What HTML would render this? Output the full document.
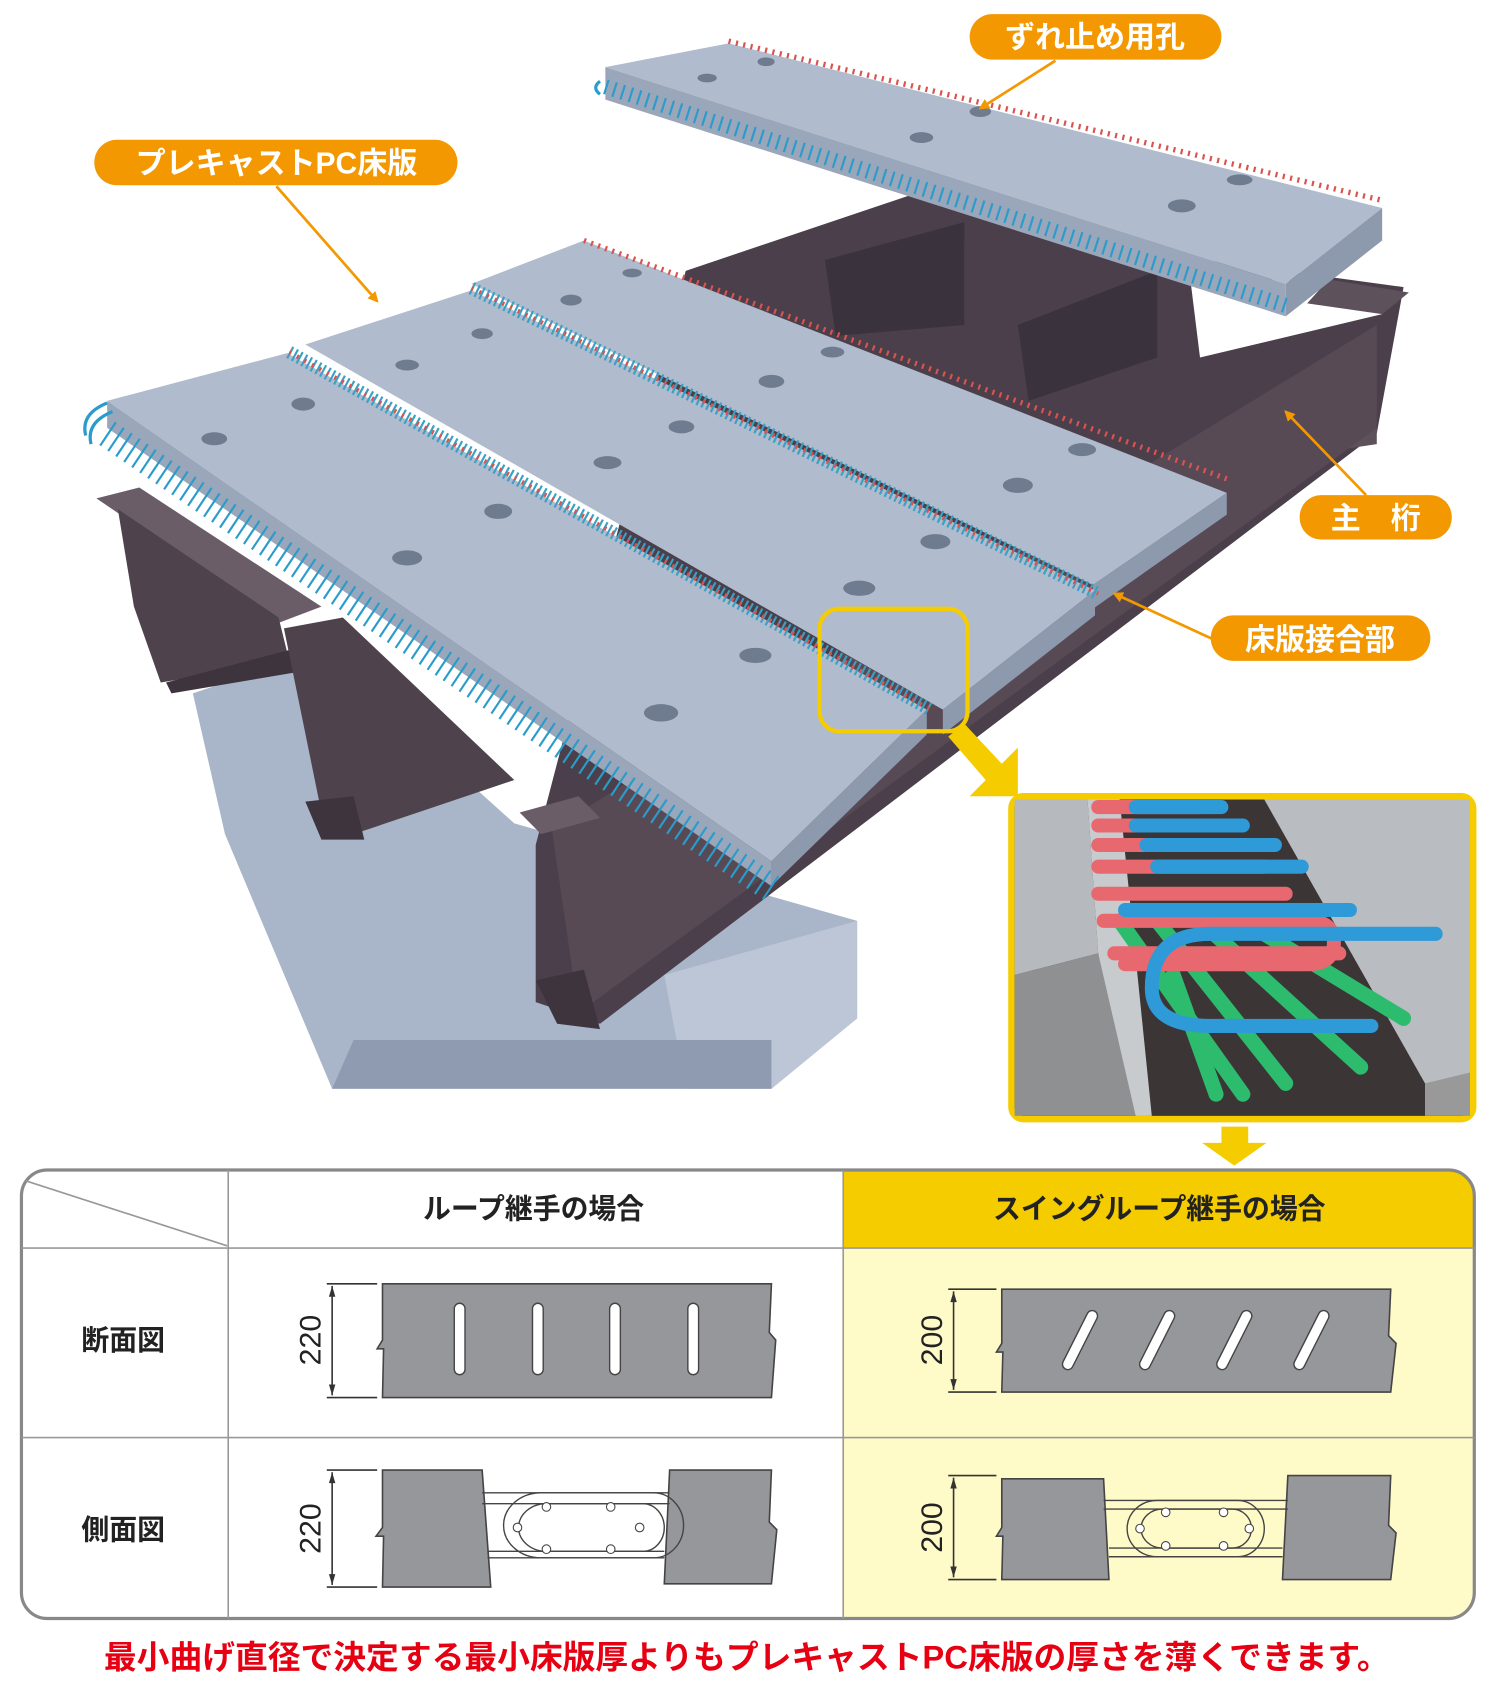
<!DOCTYPE html>
<html><head><meta charset="utf-8"><style>
html,body{margin:0;padding:0;background:#fff;}
svg{display:block;}
text{font-family:"Liberation Sans","Noto Sans CJK JP",sans-serif;}
</style></head><body>
<svg width="1500" height="1690" viewBox="0 0 1400 1560" preserveAspectRatio="none" xmlns="http://www.w3.org/2000/svg">
<defs>
<marker id="ah" markerWidth="10" markerHeight="10" refX="8" refY="5" orient="auto" markerUnits="userSpaceOnUse"><path d="M0,0 L10,5 L0,10 Z" fill="#f39800"/></marker>
</defs>
<rect width="1400" height="1560" fill="#fff"/>
<!-- pier -->
<polygon points="180,640 300,600 480,760 800,850 800,940 720,1005 310,1005 210,770" fill="#a9b5c9"/>
<polygon points="620,900 800,850 800,940 720,1005 640,1005" fill="#bcc6d6"/>
<polygon points="310,1005 720,1005 720,960 330,960" fill="#8f9bb0"/>
<!-- back steel -->
<polygon points="640,250 880,170 1000,228 1110,238 1310,265 1285,400 560,945 500,925 500,780" fill="#4a3f4a"/>
<polygon points="770,240 900,205 900,300 780,310" fill="#3a323d"/>
<polygon points="950,300 1080,250 1080,330 960,370" fill="#3a323d"/>
<polygon points="1110,250 1300,270 1290,290 1120,330" fill="#fff"/>
<polygon points="1240,258 1315,270 1290,290 1220,280" fill="#5d525c"/>
<polygon points="1180,390 1285,395 1285,410 1150,430" fill="#5d525c"/>
<!-- front main girder -->
<polygon points="515,765 1285,300 1285,395 540,935" fill="#574a55"/>
<polygon points="485,750 540,735 560,755 505,770" fill="#6a5d68"/>
<polygon points="500,905 545,895 560,950 520,945" fill="#3d343e"/>
<!-- left girder and crossbeams -->
<polygon points="90,460 130,450 300,560 260,575" fill="#6a5d68"/>
<polygon points="110,470 260,570 270,610 150,630 125,560" fill="#4e424d"/>
<polygon points="155,630 270,600 280,620 160,640" fill="#3d343e"/>
<polygon points="265,580 320,570 480,720 330,770 300,750" fill="#4e424d"/>
<polygon points="285,740 330,735 340,775 300,775" fill="#3d343e"/>
<!-- upper slab -->
<polygon points="565,62 680,40 1290,192 1200,262" fill="#b0bbce"/>
<polygon points="1200,262 1290,192 1290,222 1200,292" fill="#8d99ad"/>
<polygon points="565,62 1200,262 1200,292 565,92" fill="#9aa6b9"/>
<line x1="565" y1="80" x2="1200" y2="282" stroke="#2a9ccc" stroke-width="14" stroke-dasharray="2 6"/>
<line x1="680" y1="38" x2="1290" y2="185" stroke="#d9534f" stroke-width="5" stroke-dasharray="2 5"/>
<path d="M560,75 q-8,6 0,12" stroke="#2a9ccc" stroke-width="3" fill="none"/>
<!-- slab 3 -->
<polygon points="440,262 545,222 1145,455 1020,540" fill="#b0bbce"/>
<polygon points="1020,540 1145,455 1145,475 1020,562" fill="#8d99ad"/>
<line x1="545" y1="222" x2="1145" y2="442" stroke="#d9534f" stroke-width="5" stroke-dasharray="2 5"/>
<!-- slab 2 -->
<polygon points="285,318 440,268 1022,545 880,655" fill="#b0bbce"/>
<polygon points="880,655 1022,545 1022,568 880,678" fill="#8d99ad"/>
<line x1="440" y1="266" x2="1025" y2="548" stroke="#3aa1c4" stroke-width="12" stroke-dasharray="2 3"/>
<line x1="440" y1="266" x2="1025" y2="548" stroke="#d9534f" stroke-width="4" stroke-dasharray="2 6"/>
<!-- slab 1 -->
<polygon points="100,370 268,326 865,655 720,795" fill="#b0bbce"/>
<polygon points="720,795 865,655 865,678 720,818" fill="#8d99ad"/>
<polygon points="100,370 720,795 720,818 100,395" fill="#9aa6b9"/>
<line x1="270" y1="325" x2="868" y2="655" stroke="#3aa1c4" stroke-width="12" stroke-dasharray="2 3"/>
<line x1="270" y1="325" x2="868" y2="655" stroke="#d9534f" stroke-width="4" stroke-dasharray="2 6"/>
<line x1="100" y1="400" x2="720" y2="820" stroke="#2a9ccc" stroke-width="26" stroke-dasharray="2 7"/>
<path d="M100,372 q-25,10 -20,30 M105,380 q-25,10 -20,30" stroke="#2a9ccc" stroke-width="3" fill="none"/>
<!-- holes -->
<g fill="#6f7b8e">
<ellipse cx="200" cy="405" rx="12" ry="6"/><ellipse cx="283" cy="373" rx="11" ry="6"/>
<ellipse cx="380" cy="515" rx="14" ry="7"/><ellipse cx="465" cy="472" rx="13" ry="7"/>
<ellipse cx="617" cy="658" rx="16" ry="8"/><ellipse cx="705" cy="605" rx="15" ry="7"/>
<ellipse cx="380" cy="337" rx="11" ry="5"/><ellipse cx="450" cy="308" rx="10" ry="5"/>
<ellipse cx="567" cy="427" rx="13" ry="6"/><ellipse cx="636" cy="394" rx="12" ry="6"/>
<ellipse cx="802" cy="543" rx="15" ry="7"/><ellipse cx="873" cy="500" rx="14" ry="7"/>
<ellipse cx="533" cy="277" rx="10" ry="5"/><ellipse cx="590" cy="252" rx="9" ry="4"/>
<ellipse cx="720" cy="352" rx="12" ry="6"/><ellipse cx="777" cy="325" rx="11" ry="5"/>
<ellipse cx="950" cy="448" rx="14" ry="7"/><ellipse cx="1010" cy="415" rx="13" ry="6"/>
<ellipse cx="660" cy="72" rx="9" ry="4"/><ellipse cx="715" cy="57" rx="8" ry="4"/>
<ellipse cx="860" cy="127" rx="11" ry="5"/><ellipse cx="915" cy="103" rx="10" ry="5"/>
<ellipse cx="1103" cy="190" rx="13" ry="6"/><ellipse cx="1157" cy="166" rx="12" ry="5"/>
</g>
<!-- highlight box and arrow -->
<rect x="765" y="562" width="138" height="113" rx="18" fill="none" stroke="#f5cc00" stroke-width="4"/>
<polygon points="885,680 900,668 935,705 950,690 950,735 905,735 920,720" fill="#f5cc00"/>
<!-- inset photo -->
<rect x="941" y="732" width="437" height="304" rx="14" fill="#f5cc00"/>
<rect x="947" y="738" width="425" height="292" rx="8" fill="#3b3535"/>
<polygon points="947,738 1015,738 1025,880 947,900" fill="#b6b9bd"/>
<polygon points="947,900 1025,880 1070,1030 947,1030" fill="#8f9092"/>
<polygon points="1015,738 1045,738 1075,1030 1060,1030 1025,880" fill="#c8cbce"/>
<polygon points="1180,738 1372,738 1372,1000 1330,1000" fill="#b9bcc0"/>
<polygon points="1330,1000 1372,990 1372,1030 1330,1030" fill="#999"/>
<g stroke-linecap="round" fill="none">
<g stroke="#2dbb6e" stroke-width="14">
<line x1="1045" y1="850" x2="1160" y2="1010"/><line x1="1080" y1="850" x2="1200" y2="1000"/>
<line x1="1120" y1="850" x2="1270" y2="985"/><line x1="1160" y1="850" x2="1310" y2="940"/>
<line x1="1095" y1="900" x2="1135" y2="1010"/>
</g>
<g stroke="#e86870" stroke-width="13">
<path d="M1025,745 H1120"/><path d="M1025,762 H1140"/><path d="M1025,780 H1160"/><path d="M1025,800 H1180"/><path d="M1025,825 H1200"/><path d="M1030,850 H1220 q25,0 25,20 q0,20 -25,20 H1050"/><path d="M1040,880 H1250"/>
</g>
<g stroke="#2e9ad8" stroke-width="13">
<path d="M1060,745 H1140"/><path d="M1060,762 H1160"/><path d="M1070,780 H1190"/><path d="M1080,800 H1215"/><path d="M1050,840 H1260"/><path d="M1340,862 H1130 q-55,0 -55,50 q0,35 55,35 H1280"/>
</g>
</g>
<polygon points="1140,1040 1165,1040 1165,1055 1182,1055 1152,1076 1122,1055 1140,1055" fill="#f5cc00"/>
<!-- labels -->
<g stroke="#f39800" stroke-width="2.5" fill="none" marker-end="url(#ah)">
<line x1="258" y1="172" x2="352" y2="278"/>
<line x1="985" y1="56" x2="915" y2="100"/>
<line x1="1275" y1="457" x2="1200" y2="380"/>
<line x1="1132" y1="590" x2="1040" y2="548"/>
</g>
<g fill="#f39800">
<rect x="905" y="13" width="235" height="42" rx="21"/>
<rect x="88" y="129" width="339" height="42" rx="21"/>
<rect x="1213" y="457" width="142" height="41" rx="20"/>
<rect x="1130" y="568" width="205" height="42" rx="21"/>
</g>
<g fill="#fff" font-size="28" font-weight="bold" text-anchor="middle">
<text x="1022" y="44">ずれ止め用孔</text>
<text x="258" y="160">プレキャストPC床版</text>
<text x="1284" y="488">主　桁</text>
<text x="1232" y="600">床版接合部</text>
</g>
<!-- table -->
<path d="M787,1080 H1352 a24,24 0 0 1 24,24 V1152 H787 Z" fill="#f5cc00"/>
<path d="M787,1152 H1376 V1470 a24,24 0 0 1 -24,24 H787 Z" fill="#fffbc8"/>
<rect x="20" y="1080" width="1356" height="414" rx="24" fill="none" stroke="#888" stroke-width="3"/>
<g stroke="#999" stroke-width="1.5">
<line x1="20" y1="1152" x2="1376" y2="1152"/><line x1="20" y1="1327" x2="1376" y2="1327"/>
<line x1="213" y1="1080" x2="213" y2="1494"/><line x1="787" y1="1080" x2="787" y2="1494"/>
<line x1="24" y1="1090" x2="212" y2="1150"/>
</g>
<g font-size="26" font-weight="bold" fill="#222" text-anchor="middle">
<text x="498" y="1125">ループ継手の場合</text>
<text x="1082" y="1125">スイングループ継手の場合</text>
<text x="115" y="1246">断面図</text>
<text x="115" y="1421">側面図</text>
</g>
<!-- cross sections -->
<g fill="#96979a" stroke="#444" stroke-width="1.5">
<path d="M357,1185 H720 L718,1230 L724,1237 L720,1290 H357 L358,1245 L352,1245 L357,1237 Z"/>
<path d="M935,1190 H1298 L1296,1233 L1303,1240 L1298,1285 H935 L936,1248 L930,1248 L935,1240 Z"/>
<path d="M357,1357 H450 L458,1465 H357 L358,1418 L351,1418 L357,1410 Z"/>
<path d="M625,1357 H720 L718,1405 L725,1412 L720,1462 H620 Z"/>
<path d="M935,1365 H1030 L1035,1458 H935 L936,1418 L930,1418 L935,1410 Z"/>
<path d="M1202,1362 H1298 L1296,1408 L1303,1415 L1298,1458 H1197 Z"/>
</g>
<g fill="#fff" stroke="#444" stroke-width="1.3">
<rect x="424" y="1203" width="10" height="66" rx="5"/><rect x="497" y="1203" width="10" height="66" rx="5"/>
<rect x="569" y="1203" width="10" height="66" rx="5"/><rect x="642" y="1203" width="10" height="66" rx="5"/>
<g transform="translate(1008,1237) rotate(27)"><rect x="-5" y="-30" width="10" height="60" rx="5"/></g>
<g transform="translate(1080,1237) rotate(27)"><rect x="-5" y="-30" width="10" height="60" rx="5"/></g>
<g transform="translate(1152,1237) rotate(27)"><rect x="-5" y="-30" width="10" height="60" rx="5"/></g>
<g transform="translate(1224,1237) rotate(27)"><rect x="-5" y="-30" width="10" height="60" rx="5"/></g>
</g>
<g fill="none" stroke="#444" stroke-width="1.3">
<path d="M450,1378 H610 a28,30 0 0 1 0,60 H455"/><path d="M450,1388 H600 a20,22 0 0 1 0,44 H455"/>
<path d="M625,1378 H505 a35,30 0 0 0 0,60 H620"/><path d="M625,1388 H510 a26,22 0 0 0 0,44 H620"/>
<path d="M1030,1385 H1155 a25,26 0 0 1 0,52 H1035"/><path d="M1030,1393 H1150 a18,18 0 0 1 0,36 H1035"/>
<path d="M1202,1385 H1080 a28,26 0 0 0 0,52 H1197"/><path d="M1202,1393 H1085 a20,18 0 0 0 0,36 H1197"/>
</g>
<g fill="#fff" stroke="#444" stroke-width="1">
<circle cx="510" cy="1391" r="4"/><circle cx="570" cy="1391" r="4"/><circle cx="483" cy="1410" r="4"/><circle cx="597" cy="1410" r="4"/><circle cx="510" cy="1430" r="4"/><circle cx="570" cy="1430" r="4"/>
<circle cx="1088" cy="1396" r="4"/><circle cx="1142" cy="1396" r="4"/><circle cx="1064" cy="1411" r="4"/><circle cx="1166" cy="1411" r="4"/><circle cx="1088" cy="1427" r="4"/><circle cx="1142" cy="1427" r="4"/>
</g>
<!-- dimensions -->
<g stroke="#333" stroke-width="1.5">
<line x1="305" y1="1185" x2="352" y2="1185"/><line x1="305" y1="1290" x2="352" y2="1290"/><line x1="310" y1="1187" x2="310" y2="1288"/>
<line x1="885" y1="1190" x2="930" y2="1190"/><line x1="885" y1="1285" x2="930" y2="1285"/><line x1="890" y1="1192" x2="890" y2="1283"/>
<line x1="305" y1="1357" x2="352" y2="1357"/><line x1="305" y1="1465" x2="352" y2="1465"/><line x1="310" y1="1359" x2="310" y2="1463"/>
<line x1="885" y1="1362" x2="930" y2="1362"/><line x1="885" y1="1458" x2="930" y2="1458"/><line x1="890" y1="1364" x2="890" y2="1456"/>
</g>
<g fill="#333">
<path d="M310,1187 l-3,10 h6 Z M310,1288 l-3,-10 h6 Z M890,1192 l-3,10 h6 Z M890,1283 l-3,-10 h6 Z M310,1359 l-3,10 h6 Z M310,1463 l-3,-10 h6 Z M890,1364 l-3,10 h6 Z M890,1456 l-3,-10 h6 Z"/>
</g>
<g font-size="28" fill="#222" text-anchor="middle">
<text transform="translate(299,1237) rotate(-90)">220</text>
<text transform="translate(879,1237) rotate(-90)">200</text>
<text transform="translate(299,1411) rotate(-90)">220</text>
<text transform="translate(879,1410) rotate(-90)">200</text>
</g>
<text x="697" y="1540" font-size="30" font-weight="bold" fill="#e60012" text-anchor="middle" textLength="1200" lengthAdjust="spacingAndGlyphs">最小曲げ直径で決定する最小床版厚よりもプレキャストPC床版の厚さを薄くできます。</text>
</svg>
</body></html>
